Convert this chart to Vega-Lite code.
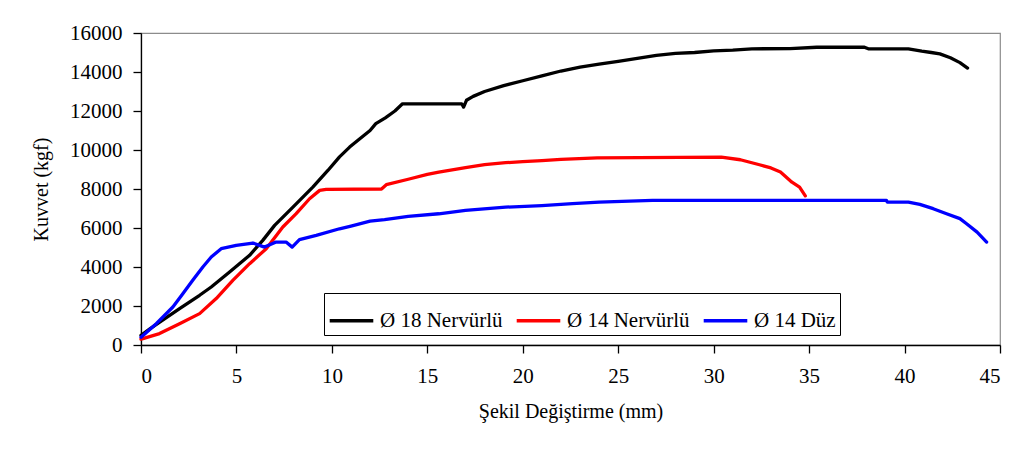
{
  "$schema": "https://vega.github.io/schema/vega-lite/v6.json",
  "width": 859,
  "height": 312,
  "autosize": {"type": "none"},
  "padding": {"left": 141, "top": 33, "right": 17, "bottom": 114},
  "background": "white",
  "config": {
    "font": "Liberation Serif",
    "view": {"stroke": "#8c8c8c", "strokeWidth": 1.2},
    "axis": {
      "labelFont": "Liberation Serif",
      "titleFont": "Liberation Serif",
      "labelFontSize": 21,
      "titleFontSize": 20,
      "titleFontWeight": "normal",
      "labelColor": "black",
      "titleColor": "black",
      "domainColor": "black",
      "tickColor": "black",
      "domainWidth": 1.3,
      "tickWidth": 1.3,
      "tickSize": 8,
      "grid": false
    },
    "legend": {
      "labelFont": "Liberation Serif",
      "labelFontSize": 21,
      "labelColor": "black"
    }
  },
  "datasets": {
    "curves": [
      {"s": "Ø 18 Nervürlü", "x": 0, "y": 500},
      {"s": "Ø 18 Nervürlü", "x": 0.5, "y": 850},
      {"s": "Ø 18 Nervürlü", "x": 1, "y": 1180},
      {"s": "Ø 18 Nervürlü", "x": 2.02, "y": 1865},
      {"s": "Ø 18 Nervürlü", "x": 3.07, "y": 2550},
      {"s": "Ø 18 Nervürlü", "x": 3.68, "y": 2975},
      {"s": "Ø 18 Nervürlü", "x": 4.64, "y": 3740},
      {"s": "Ø 18 Nervürlü", "x": 5.69, "y": 4600},
      {"s": "Ø 18 Nervürlü", "x": 6.38, "y": 5365},
      {"s": "Ø 18 Nervürlü", "x": 7.0, "y": 6135},
      {"s": "Ø 18 Nervürlü", "x": 7.96, "y": 7070},
      {"s": "Ø 18 Nervürlü", "x": 9.0, "y": 8100},
      {"s": "Ø 18 Nervürlü", "x": 9.79, "y": 8950},
      {"s": "Ø 18 Nervürlü", "x": 10.4, "y": 9650},
      {"s": "Ø 18 Nervürlü", "x": 10.93, "y": 10150},
      {"s": "Ø 18 Nervürlü", "x": 11.35, "y": 10490},
      {"s": "Ø 18 Nervürlü", "x": 12, "y": 11000},
      {"s": "Ø 18 Nervürlü", "x": 12.3, "y": 11350},
      {"s": "Ø 18 Nervürlü", "x": 12.8, "y": 11650},
      {"s": "Ø 18 Nervürlü", "x": 13.3, "y": 12000},
      {"s": "Ø 18 Nervürlü", "x": 13.7, "y": 12370},
      {"s": "Ø 18 Nervürlü", "x": 16.8, "y": 12370},
      {"s": "Ø 18 Nervürlü", "x": 16.9, "y": 12200},
      {"s": "Ø 18 Nervürlü", "x": 17.05, "y": 12550},
      {"s": "Ø 18 Nervürlü", "x": 17.4, "y": 12750},
      {"s": "Ø 18 Nervürlü", "x": 18, "y": 13000},
      {"s": "Ø 18 Nervürlü", "x": 19, "y": 13300},
      {"s": "Ø 18 Nervürlü", "x": 20, "y": 13550},
      {"s": "Ø 18 Nervürlü", "x": 21, "y": 13800},
      {"s": "Ø 18 Nervürlü", "x": 22, "y": 14050},
      {"s": "Ø 18 Nervürlü", "x": 23, "y": 14250},
      {"s": "Ø 18 Nervürlü", "x": 24, "y": 14400},
      {"s": "Ø 18 Nervürlü", "x": 25, "y": 14550},
      {"s": "Ø 18 Nervürlü", "x": 26, "y": 14700},
      {"s": "Ø 18 Nervürlü", "x": 27, "y": 14850},
      {"s": "Ø 18 Nervürlü", "x": 28, "y": 14950},
      {"s": "Ø 18 Nervürlü", "x": 29, "y": 15000},
      {"s": "Ø 18 Nervürlü", "x": 30, "y": 15080},
      {"s": "Ø 18 Nervürlü", "x": 31, "y": 15120},
      {"s": "Ø 18 Nervürlü", "x": 32, "y": 15190},
      {"s": "Ø 18 Nervürlü", "x": 34, "y": 15200},
      {"s": "Ø 18 Nervürlü", "x": 35.4, "y": 15270},
      {"s": "Ø 18 Nervürlü", "x": 37.9, "y": 15270},
      {"s": "Ø 18 Nervürlü", "x": 38.1, "y": 15190},
      {"s": "Ø 18 Nervürlü", "x": 40.2, "y": 15190},
      {"s": "Ø 18 Nervürlü", "x": 40.9, "y": 15070},
      {"s": "Ø 18 Nervürlü", "x": 41.4, "y": 15000},
      {"s": "Ø 18 Nervürlü", "x": 41.85, "y": 14930},
      {"s": "Ø 18 Nervürlü", "x": 42.4, "y": 14730},
      {"s": "Ø 18 Nervürlü", "x": 42.9, "y": 14480},
      {"s": "Ø 18 Nervürlü", "x": 43.3, "y": 14200},

      {"s": "Ø 14 Nervürlü", "x": 0, "y": 300},
      {"s": "Ø 14 Nervürlü", "x": 0.1, "y": 330},
      {"s": "Ø 14 Nervürlü", "x": 0.97, "y": 585},
      {"s": "Ø 14 Nervürlü", "x": 2.02, "y": 1095},
      {"s": "Ø 14 Nervürlü", "x": 3.07, "y": 1610},
      {"s": "Ø 14 Nervürlü", "x": 3.94, "y": 2380},
      {"s": "Ø 14 Nervürlü", "x": 4.81, "y": 3315},
      {"s": "Ø 14 Nervürlü", "x": 5.69, "y": 4170},
      {"s": "Ø 14 Nervürlü", "x": 6.56, "y": 4940},
      {"s": "Ø 14 Nervürlü", "x": 7.43, "y": 6050},
      {"s": "Ø 14 Nervürlü", "x": 8.13, "y": 6735},
      {"s": "Ø 14 Nervürlü", "x": 8.83, "y": 7500},
      {"s": "Ø 14 Nervürlü", "x": 9.36, "y": 7930},
      {"s": "Ø 14 Nervürlü", "x": 9.7, "y": 7980},
      {"s": "Ø 14 Nervürlü", "x": 12.6, "y": 8000},
      {"s": "Ø 14 Nervürlü", "x": 12.85, "y": 8220},
      {"s": "Ø 14 Nervürlü", "x": 14, "y": 8500},
      {"s": "Ø 14 Nervürlü", "x": 15, "y": 8750},
      {"s": "Ø 14 Nervürlü", "x": 15.6, "y": 8870},
      {"s": "Ø 14 Nervürlü", "x": 17, "y": 9100},
      {"s": "Ø 14 Nervürlü", "x": 18, "y": 9250},
      {"s": "Ø 14 Nervürlü", "x": 19.1, "y": 9350},
      {"s": "Ø 14 Nervürlü", "x": 20, "y": 9400},
      {"s": "Ø 14 Nervürlü", "x": 21, "y": 9450},
      {"s": "Ø 14 Nervürlü", "x": 22, "y": 9520},
      {"s": "Ø 14 Nervürlü", "x": 23.9, "y": 9600},
      {"s": "Ø 14 Nervürlü", "x": 30.4, "y": 9630},
      {"s": "Ø 14 Nervürlü", "x": 31.4, "y": 9500},
      {"s": "Ø 14 Nervürlü", "x": 32.4, "y": 9245},
      {"s": "Ø 14 Nervürlü", "x": 33.0, "y": 9080},
      {"s": "Ø 14 Nervürlü", "x": 33.5, "y": 8870},
      {"s": "Ø 14 Nervürlü", "x": 34.1, "y": 8350},
      {"s": "Ø 14 Nervürlü", "x": 34.5, "y": 8100},
      {"s": "Ø 14 Nervürlü", "x": 34.8, "y": 7650},

      {"s": "Ø 14 Düz", "x": 0, "y": 400},
      {"s": "Ø 14 Düz", "x": 0.8, "y": 1095},
      {"s": "Ø 14 Düz", "x": 1.67, "y": 1950},
      {"s": "Ø 14 Düz", "x": 2.19, "y": 2630},
      {"s": "Ø 14 Düz", "x": 2.71, "y": 3315},
      {"s": "Ø 14 Düz", "x": 3.24, "y": 4000},
      {"s": "Ø 14 Düz", "x": 3.68, "y": 4510},
      {"s": "Ø 14 Düz", "x": 4.2, "y": 4940},
      {"s": "Ø 14 Düz", "x": 4.99, "y": 5110},
      {"s": "Ø 14 Düz", "x": 5.86, "y": 5230},
      {"s": "Ø 14 Düz", "x": 6.21, "y": 5110},
      {"s": "Ø 14 Düz", "x": 6.47, "y": 5020},
      {"s": "Ø 14 Düz", "x": 7.08, "y": 5280},
      {"s": "Ø 14 Düz", "x": 7.6, "y": 5280},
      {"s": "Ø 14 Düz", "x": 7.92, "y": 5020},
      {"s": "Ø 14 Düz", "x": 8.3, "y": 5400},
      {"s": "Ø 14 Düz", "x": 9.18, "y": 5620},
      {"s": "Ø 14 Düz", "x": 10.4, "y": 5960},
      {"s": "Ø 14 Düz", "x": 11, "y": 6100},
      {"s": "Ø 14 Düz", "x": 12, "y": 6350},
      {"s": "Ø 14 Düz", "x": 12.76, "y": 6430},
      {"s": "Ø 14 Düz", "x": 14, "y": 6600},
      {"s": "Ø 14 Düz", "x": 15.6, "y": 6730},
      {"s": "Ø 14 Düz", "x": 17, "y": 6900},
      {"s": "Ø 14 Düz", "x": 19.1, "y": 7070},
      {"s": "Ø 14 Düz", "x": 21, "y": 7150},
      {"s": "Ø 14 Düz", "x": 22.6, "y": 7250},
      {"s": "Ø 14 Düz", "x": 24, "y": 7330},
      {"s": "Ø 14 Düz", "x": 26.8, "y": 7415},
      {"s": "Ø 14 Düz", "x": 39.05, "y": 7415},
      {"s": "Ø 14 Düz", "x": 39.1, "y": 7330},
      {"s": "Ø 14 Düz", "x": 40.2, "y": 7330},
      {"s": "Ø 14 Düz", "x": 40.8, "y": 7210},
      {"s": "Ø 14 Düz", "x": 41.5, "y": 6990},
      {"s": "Ø 14 Düz", "x": 42.2, "y": 6730},
      {"s": "Ø 14 Düz", "x": 42.9, "y": 6480},
      {"s": "Ø 14 Düz", "x": 43.25, "y": 6220},
      {"s": "Ø 14 Düz", "x": 43.8, "y": 5790},
      {"s": "Ø 14 Düz", "x": 44.3, "y": 5280}
    ]
  },
  "data": {"name": "curves"},
  "mark": {"type": "line", "strokeWidth": 3.3, "strokeJoin": "round", "strokeCap": "round"},
  "encoding": {
    "x": {
      "field": "x",
      "type": "quantitative",
      "scale": {"domain": [0, 45], "nice": false, "zero": false},
      "axis": {"values": [0, 5, 10, 15, 20, 25, 30, 35, 40, 45], "format": "d", "labelPadding": 12, "title": "Şekil Değiştirme (mm)", "titlePadding": 15}
    },
    "y": {
      "field": "y",
      "type": "quantitative",
      "scale": {"domain": [0, 16000], "nice": false},
      "axis": {"values": [0, 2000, 4000, 6000, 8000, 10000, 12000, 14000, 16000], "format": "d", "labelPadding": 11, "title": "Kuvvet (kgf)", "titlePadding": 18}
    },
    "color": {
      "field": "s",
      "type": "nominal",
      "sort": ["Ø 18 Nervürlü", "Ø 14 Nervürlü", "Ø 14 Düz"],
      "scale": {"domain": ["Ø 18 Nervürlü", "Ø 14 Nervürlü", "Ø 14 Düz"], "range": ["#000000", "#ff0000", "#0000ff"]},
      "legend": {
        "title": null,
        "orient": "none",
        "direction": "horizontal",
        "legendX": 183,
        "legendY": 260,
        "symbolType": "stroke",
        "symbolSize": 1900,
        "symbolStrokeWidth": 3.3,
        "labelOffset": 5,
        "columnPadding": 7,
        "padding": 4,
        "strokeColor": "black",
        "fillColor": "white"
      }
    }
  }
}
